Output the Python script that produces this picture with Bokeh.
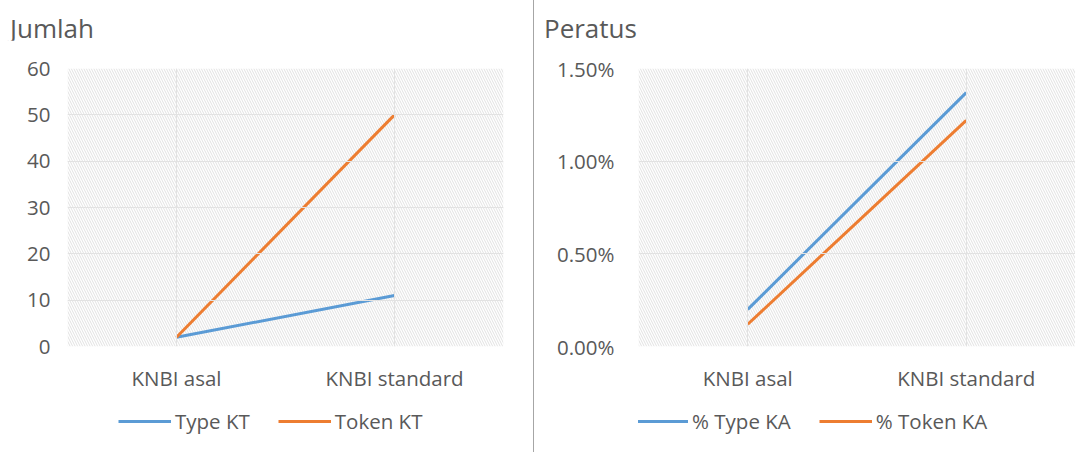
from bokeh.plotting import figure
from bokeh.models import (Legend, LegendItem, BoxAnnotation, NumeralTickFormatter,
                          FactorRange, Range1d, Div, ColumnDataSource)
from bokeh.layouts import row, column
from bokeh.embed import file_html
from bokeh.resources import INLINE

# ---- data ----
categories = ["KNBI asal", "KNBI standard"]
type_kt = [2, 11]
token_kt = [2, 50]
pct_type_ka = [0.0020, 0.0137]
pct_token_ka = [0.0012, 0.0122]
left_ticks = [0, 10, 20, 30, 40, 50, 60]
right_ticks = [0.0, 0.005, 0.010, 0.015]

FONT = "Open Sans"
TXT = "#595959"
BLUE = "#5B9BD5"
ORANGE = "#ED7D31"
GRID = "#e2e2e2"
H_TITLE = 40
H_MAIN = 358
H_LEG = 54
TICK_FS = "20.5px"


def make(width, bl, br, ymax, ticks, fmt, title, tpad, vals, labels,
         leg_x, ystand):
    src = ColumnDataSource(dict(cat=categories, a=vals[0], b=vals[1]))

    head = Div(text=('<div style="padding:10px 0 0 %dpx; font-family:\'Open Sans\';'
                     ' font-size:26px; line-height:normal; color:%s; white-space:nowrap;">'
                     '%s</div>') % (tpad, TXT, title),
               width=width, height=H_TITLE, margin=0)

    p = figure(x_range=FactorRange(factors=categories), y_range=Range1d(0, ymax),
               width=width, height=H_MAIN, output_backend="svg", toolbar_location=None,
               min_border_left=bl, min_border_right=br, min_border_top=28,
               min_border_bottom=52)
    p.title.text = ""
    p.title.text_font_size = "1px"
    p.title.standoff = 0
    p.title.visible = False
    p.outline_line_color = None
    p.background_fill_color = "white"
    p.border_fill_color = "white"

    hatch = BoxAnnotation(fill_color="white", fill_alpha=1.0, line_color=None,
                          hatch_pattern="\\", hatch_color="#c8c8c8",
                          hatch_scale=5, hatch_weight=1, hatch_alpha=0.55,
                          level="underlay")
    p.add_layout(hatch)

    for ax in (p.xaxis[0], p.yaxis[0]):
        ax.axis_line_color = None
        ax.major_tick_line_color = None
        ax.minor_tick_line_color = None
        ax.major_tick_out = 0
        ax.major_tick_in = 0
        ax.major_label_text_font = FONT
        ax.major_label_text_font_size = TICK_FS
        ax.major_label_text_color = TXT
    p.yaxis.ticker = ticks
    if fmt:
        p.yaxis.formatter = NumeralTickFormatter(format=fmt)
    p.yaxis.major_label_standoff = ystand
    p.xaxis.major_label_standoff = 17
    p.ygrid.ticker = ticks
    p.ygrid.grid_line_color = GRID
    p.xgrid.grid_line_color = GRID
    p.ygrid.level = "glyph"
    p.xgrid.level = "glyph"

    p.line(x="cat", y="a", source=src, line_width=3, color=BLUE)
    p.line(x="cat", y="b", source=src, line_width=3, color=ORANGE)

    # legend strip below the chart (series drawn outside its visible range)
    lf = figure(width=width, height=H_LEG, output_backend="svg", toolbar_location=None,
                min_border=0, x_range=FactorRange(factors=categories),
                y_range=Range1d(-2, -1))
    lf.axis.visible = False
    lf.grid.visible = False
    lf.outline_line_color = None
    lf.border_fill_color = "white"
    lf.background_fill_color = "white"
    l1 = lf.line(x="cat", y="a", source=src, line_width=3, color=BLUE)
    l2 = lf.line(x="cat", y="b", source=src, line_width=3, color=ORANGE)
    leg = Legend(items=[LegendItem(label=labels[0], renderers=[l1]),
                        LegendItem(label=labels[1], renderers=[l2])],
                 orientation="horizontal", location=(leg_x, 17),
                 glyph_width=53, glyph_height=20, label_standoff=4, spacing=28,
                 padding=0, margin=0, border_line_color=None,
                 background_fill_alpha=0, label_text_font=FONT,
                 label_text_font_size=TICK_FS, label_text_color=TXT)
    lf.add_layout(leg, "center")
    return column(head, p, lf, spacing=0)


c1 = make(533, 67, 30, 60, left_ticks, None, "Jumlah", 10,
          (type_kt, token_kt), ("Type KT", "Token KT"), 51, 17)
c2 = make(541, 104, 0, 0.015, right_ticks, "0.00%", "Peratus", 10,
          (pct_type_ka, pct_token_ka), ("% Type KA", "% Token KA"), -3, 24)
sep = Div(width=1, height=H_TITLE + H_MAIN + H_LEG, margin=0,
          styles={"background-color": "#a6a6a6"})

layout = row(c1, sep, c2, spacing=0)
open("out.html", "w").write(file_html(layout, INLINE))
